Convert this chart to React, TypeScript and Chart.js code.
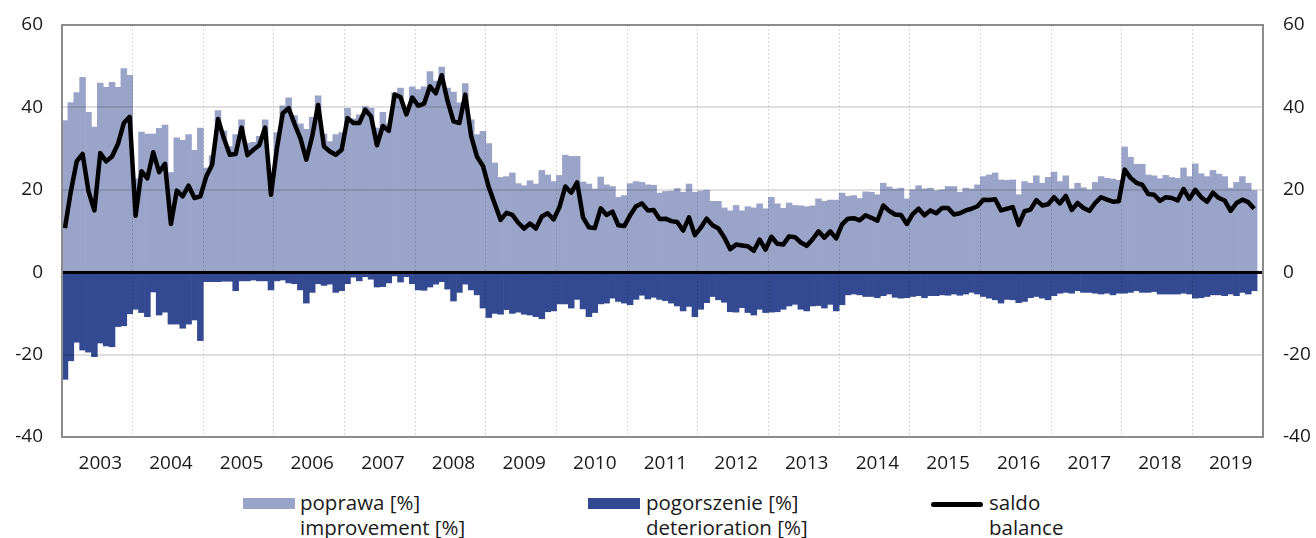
import React, { useEffect, useRef } from 'react';
import { Chart, registerables } from 'chart.js';

Chart.register(...registerables);

// ---- data (monthly, Jan 2003 – Nov 2019) ----
const years = ['2003', '2004', '2005', '2006', '2007', '2008', '2009', '2010', '2011', '2012', '2013', '2014', '2015', '2016', '2017', '2018', '2019'];

// poprawa [%] / improvement [%]
const improvement = [
  36.8, 41.2, 43.6, 47.3, 38.8, 35.2, 45.9, 44.9, 46.1, 44.9, 49.4, 47.8,
  22.7, 34.0, 33.5, 33.5, 34.9, 35.7, 24.2, 32.6, 32.0, 33.4, 29.6, 35.0,
  25.3, 28.3, 39.2, 34.3, 30.5, 33.4, 37.0, 31.3, 31.5, 33.0, 37.0, 23.1,
  33.9, 40.4, 42.3, 38.0, 36.0, 34.7, 37.6, 42.8, 33.5, 31.7, 33.4, 33.9,
  39.8, 37.2, 38.2, 40.2, 39.8, 35.0, 38.8, 36.0, 43.6, 44.7, 40.0, 45.0,
  44.3, 45.0, 48.7, 46.4, 49.8, 44.7, 43.7, 41.1, 45.8, 37.0, 33.4, 34.2,
  31.2, 26.5, 23.0, 23.2, 24.1, 21.5, 21.0, 22.2, 21.4, 24.7, 23.6, 22.0,
  23.5, 28.4, 28.1, 28.1, 21.9, 21.4, 20.2, 23.1, 21.2, 20.8, 18.2, 18.6,
  21.5, 22.0, 21.8, 21.2, 21.1, 19.2, 19.6, 19.7, 20.3, 19.4, 21.4, 19.4,
  19.7, 19.9, 17.2, 17.2, 15.6, 14.9, 16.2, 14.9, 15.9, 15.6, 16.6, 15.4,
  18.2, 16.6, 15.5, 16.8, 16.2, 16.1, 15.9, 16.1, 17.8, 17.2, 17.5, 17.5,
  19.2, 18.4, 18.6, 17.9, 19.5, 19.4, 18.8, 21.6, 20.7, 20.2, 20.4, 17.8,
  20.0, 21.0, 20.2, 20.4, 19.8, 20.0, 20.8, 20.8, 19.4, 20.4, 20.2, 21.2,
  23.2, 23.6, 24.1, 22.4, 22.3, 22.4, 18.8, 22.0, 21.6, 23.4, 21.6, 23.0,
  24.3, 22.0, 23.4, 20.2, 21.6, 20.5, 20.0, 21.8, 23.2, 22.8, 22.6, 22.3,
  30.4, 27.9, 26.2, 26.2, 23.6, 23.4, 22.7, 23.5, 23.0, 22.8, 25.3, 23.2,
  26.3, 23.9, 23.2, 24.7, 23.8, 23.2, 20.4, 21.8, 23.2, 21.6, 19.8,
];

// pogorszenie [%] / deterioration [%]
const deterioration = [
  -26.0, -21.5, -17.0, -18.9, -19.4, -20.5, -17.2, -17.9, -18.1, -13.2, -13.0, -10.1,
  -9.0, -9.8, -10.8, -4.8, -10.4, -9.7, -12.6, -12.6, -13.6, -12.6, -11.6, -16.6,
  -2.3, -2.3, -2.3, -2.2, -2.2, -4.5, -2.1, -2.1, -1.9, -2.1, -2.1, -4.3,
  -2.1, -1.9, -2.6, -2.8, -4.3, -7.5, -4.9, -2.8, -3.2, -2.9, -4.9, -4.5,
  -2.8, -1.2, -2.1, -1.1, -1.7, -3.6, -3.5, -2.6, -0.9, -2.4, -1.1, -2.8,
  -4.3, -4.4, -3.6, -2.9, -2.3, -4.1, -7.0, -4.9, -2.9, -4.3, -5.5, -8.7,
  -11.0, -10.0, -10.2, -9.1, -10.0, -9.7, -10.2, -10.4, -10.8, -11.3, -9.6, -9.4,
  -7.7, -7.7, -8.7, -6.6, -8.9, -10.8, -9.8, -7.7, -7.5, -6.3, -7.1, -7.5,
  -7.9, -6.6, -5.6, -6.5, -6.1, -6.6, -6.9, -7.5, -8.2, -9.4, -8.3, -10.8,
  -9.0, -7.4, -5.9, -6.7, -7.3, -9.6, -9.7, -8.6, -9.8, -10.4, -9.0, -9.8,
  -9.7, -9.6, -9.0, -8.2, -7.8, -9.0, -9.4, -8.2, -8.1, -8.7, -7.8, -9.4,
  -7.9, -5.5, -5.3, -5.5, -5.9, -5.9, -6.2, -5.7, -5.3, -6.1, -6.3, -6.2,
  -5.9, -5.7, -6.2, -5.7, -5.7, -5.5, -5.6, -5.3, -5.6, -5.3, -4.9, -5.3,
  -5.9, -6.3, -6.7, -7.5, -6.6, -6.7, -7.4, -7.1, -6.2, -5.9, -6.3, -6.7,
  -5.7, -5.1, -4.9, -5.1, -4.5, -4.9, -4.9, -5.1, -5.3, -5.1, -5.5, -5.1,
  -5.1, -4.9, -4.5, -4.9, -4.9, -4.7, -5.3, -5.3, -5.3, -5.3, -5.1, -5.3,
  -6.3, -6.2, -5.9, -5.5, -5.5, -5.7, -5.3, -5.7, -4.9, -5.3, -4.5,
];

// saldo / balance
const balance = [
  10.7, 19.6, 26.9, 28.7, 19.6, 15.0, 28.9, 26.9, 28.1, 31.1, 36.2, 37.7,
  13.7, 24.5, 22.8, 29.1, 24.3, 26.3, 11.7, 19.8, 18.4, 21.0, 18.0, 18.4,
  23.2, 26.1, 37.2, 32.5, 28.5, 28.7, 35.1, 28.4, 29.7, 30.8, 35.1, 18.8,
  30.0, 38.6, 39.8, 36.0, 32.5, 27.3, 33.0, 40.6, 30.5, 29.3, 28.5, 29.7,
  37.4, 36.2, 36.2, 39.4, 37.8, 30.8, 35.5, 34.3, 43.1, 42.5, 38.3, 42.4,
  40.4, 40.9, 45.1, 43.4, 47.8, 41.5, 36.6, 36.2, 43.1, 33.0, 28.0, 25.8,
  20.6, 16.6, 12.7, 14.4, 13.9, 12.0, 10.6, 11.8, 10.6, 13.5, 14.3, 12.8,
  15.8, 20.8, 19.3, 21.8, 13.3, 10.9, 10.7, 15.5, 13.9, 14.7, 11.4, 11.2,
  13.8, 16.0, 16.7, 15.0, 15.1, 12.9, 13.0, 12.4, 12.2, 10.1, 13.3, 9.0,
  10.8, 13.0, 11.4, 10.6, 8.4, 5.6, 6.7, 6.5, 6.3, 5.2, 7.9, 5.5,
  8.6, 6.9, 6.7, 8.7, 8.5, 7.2, 6.4, 8.0, 9.9, 8.4, 9.9, 8.2,
  11.6, 13.0, 13.1, 12.6, 13.8, 13.2, 12.5, 16.2, 14.9, 14.0, 13.9, 11.7,
  14.1, 15.4, 13.8, 15.0, 14.3, 15.6, 15.6, 14.0, 14.3, 15.0, 15.4, 16.0,
  17.6, 17.5, 17.7, 15.0, 15.4, 15.8, 11.5, 14.8, 15.2, 17.5, 16.2, 16.5,
  18.2, 16.7, 18.5, 15.1, 16.8, 15.6, 14.9, 16.8, 18.2, 17.6, 17.1, 17.2,
  24.9, 22.9, 21.7, 21.2, 19.0, 18.8, 17.3, 18.2, 18.0, 17.4, 20.2, 17.8,
  20.0, 18.2, 17.1, 19.3, 18.0, 17.4, 14.9, 16.8, 17.6, 17.0, 15.4,
];

const yMin = -40;
const yMax = 60;
const yStep = 20;

const legendImprovement = ['poprawa [%]', 'improvement [%]'];
const legendDeterioration = ['pogorszenie [%]', 'deterioration [%]'];
const legendBalance = ['saldo', 'balance'];

// ---- styles ----
const COLOR_IMPROVE = '#9aa4c8';
const COLOR_DETER = '#334a93';
const FONT = '"Open Sans", "Noto Sans", sans-serif';
const TEXT = '#1a1a1a';

const monthLabels = years.flatMap((y) =>
  Array.from({ length: 12 }, (_, m) => `${y}-${String(m + 1).padStart(2, '0')}`)
);

const framePlugin = {
  id: 'frame',
  afterDraw(chart: any) {
    const { ctx, chartArea: a } = chart;
    ctx.save();
    ctx.strokeStyle = '#8c8c8c';
    ctx.lineWidth = 2;
    ctx.strokeRect(a.left, a.top, a.right - a.left, a.bottom - a.top);
    ctx.restore();
  },
};

function LegendText({ lines }: { lines: string[] }) {
  return (
    <div style={{ fontFamily: FONT, fontSize: 20.5, lineHeight: '25px', color: TEXT, whiteSpace: 'nowrap' }}>
      {lines.map((l) => (
        <div key={l}>{l}</div>
      ))}
    </div>
  );
}

export default function App() {
  const canvasRef = useRef<HTMLCanvasElement | null>(null);

  useEffect(() => {
    if (!canvasRef.current) return;
    const chart = new Chart(canvasRef.current, {
      type: 'bar',
      data: {
        labels: monthLabels,
        datasets: [
          {
            type: 'line',
            label: 'saldo',
            data: balance,
            borderColor: '#000',
            borderWidth: 4.5,
            pointRadius: 0,
            tension: 0,
            borderJoinStyle: 'round',
            order: 0,
          } as any,
          {
            type: 'bar',
            label: 'poprawa',
            data: improvement,
            backgroundColor: COLOR_IMPROVE,
            borderWidth: 0,
            barPercentage: 1,
            categoryPercentage: 1,
            grouped: false,
            order: 1,
          },
          {
            type: 'bar',
            label: 'pogorszenie',
            data: deterioration,
            backgroundColor: COLOR_DETER,
            borderWidth: 0,
            barPercentage: 1,
            categoryPercentage: 1,
            grouped: false,
            order: 2,
          },
        ],
      },
      options: {
        animation: false,
        responsive: true,
        maintainAspectRatio: false,
        layout: { padding: { top: 25, left: 0, right: 0, bottom: 0 } },
        plugins: { legend: { display: false }, tooltip: { enabled: false } },
        scales: {
          x: {
            type: 'category',
            offset: true,
            afterFit: (s: any) => {
              s.height = 43;
              s.paddingLeft = 0;
              s.paddingRight = 0;
            },
            grid: {
              offset: true,
              drawTicks: false,
              z: 1,
              lineWidth: 1,
              color: (c: any) => (c.index > 0 && c.index % 12 === 0 ? 'rgba(0,0,0,0.2)' : 'rgba(0,0,0,0)'),
            },
            border: { display: false, dash: [1.5, 2.5] },
            ticks: {
              autoSkip: false,
              maxRotation: 0,
              minRotation: 0,
              padding: 15,
              color: TEXT,
              font: { family: FONT, size: 19 },
              callback: (_v: any, i: number) => (i % 12 === 6 ? years[Math.floor(i / 12)] : ''),
            },
          },
          y: {
            type: 'linear',
            position: 'left',
            min: yMin,
            max: yMax,
            afterFit: (s: any) => {
              s.width = 62;
              s.paddingTop = 0;
              s.paddingBottom = 0;
            },
            ticks: {
              stepSize: yStep,
              padding: 19,
              color: TEXT,
              font: { family: FONT, size: 19 },
            },
            grid: {
              drawTicks: false,
              z: 1,
              color: (c: any) =>
                c.tick && c.tick.value === 0
                  ? '#000'
                  : c.tick && (c.tick.value === yMax || c.tick.value === yMin)
                  ? 'rgba(0,0,0,0)'
                  : 'rgba(0,0,0,0.12)',
              lineWidth: (c: any) => (c.tick && c.tick.value === 0 ? 3 : 2),
            },
            border: { display: false },
          },
          y2: {
            type: 'linear',
            position: 'right',
            min: yMin,
            max: yMax,
            afterFit: (s: any) => {
              s.width = 53;
              s.paddingTop = 0;
              s.paddingBottom = 0;
            },
            ticks: {
              stepSize: yStep,
              padding: 20,
              color: TEXT,
              font: { family: FONT, size: 19 },
            },
            grid: { display: false, drawTicks: false },
            border: { display: false },
          },
        },
      },
      plugins: [framePlugin],
    } as any);
    return () => chart.destroy();
  }, []);

  return (
    <div style={{ position: 'absolute', left: 0, top: 0, width: 1316, height: 538, background: '#fff', overflow: 'hidden' }}>
      <div style={{ position: 'absolute', left: 0, top: 0, width: 1316, height: 480 }}>
        <canvas ref={canvasRef} />
      </div>
      {/* legend */}
      <div style={{ position: 'absolute', left: 243, top: 498, width: 52, height: 11, background: COLOR_IMPROVE }} />
      <div style={{ position: 'absolute', left: 300, top: 490 }}>
        <LegendText lines={legendImprovement} />
      </div>
      <div style={{ position: 'absolute', left: 588, top: 498, width: 52, height: 11, background: COLOR_DETER }} />
      <div style={{ position: 'absolute', left: 646, top: 490 }}>
        <LegendText lines={legendDeterioration} />
      </div>
      <div style={{ position: 'absolute', left: 931, top: 502, width: 52, height: 5, borderRadius: 3, background: '#000' }} />
      <div style={{ position: 'absolute', left: 989, top: 490 }}>
        <LegendText lines={legendBalance} />
      </div>
    </div>
  );
}
